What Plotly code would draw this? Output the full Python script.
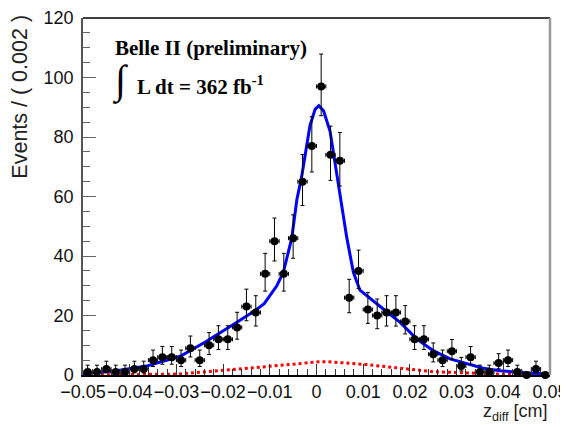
import math
import plotly.graph_objects as go

# ---- data ----
bin_width = 0.002
bin_centers = [-0.049 + 0.002 * i for i in range(50)]
counts = [1, 1, 2, 1, 1, 2, 2, 5, 6, 6,
          5, 9, 5, 10, 12, 12, 16, 23, 21, 34,
          45, 34, 46, 65, 77, 97, 74, 72, 26, 35,
          22, 20, 21, 21, 18, 12, 12, 7, 5, 8,
          3, 6, 1, 1, 4, 5, 1, 0, 2, 0]

fit_x = [-0.05, -0.0492, -0.0435, -0.0364, -0.0292, -0.0249, -0.0239, -0.0178,
         -0.0132, -0.0112, -0.0085, -0.0071, -0.0053, -0.0042, -0.0032, -0.0014,
         -0.0003, 0.0005, 0.0015, 0.0029, 0.0040, 0.0050, 0.0065, 0.0079, 0.0093,
         0.0143, 0.0179, 0.0215, 0.025, 0.0286, 0.0322, 0.0357, 0.0393, 0.0429,
         0.0464, 0.05]
fit_y = [0.3, 0.6, 1.3, 3.0, 6.3, 10.0, 11.0, 17.0,
         21.6, 24.0, 30.0, 34.5, 46.0, 59.0, 66.5, 83.8,
         89.3, 90.5, 88.8, 82.0, 71.0, 60.0, 46.0, 34.5, 28.5,
         22.2, 17.7, 12.1, 8.2, 5.4, 3.7, 2.3, 1.4, 0.9,
         0.6, 0.3]

bkg_x = [-0.05, -0.04, -0.0299, -0.0249, -0.0192, -0.0121, -0.0071, -0.005,
         0.0, 0.0022, 0.0107, 0.0179, 0.025, 0.0322, 0.0393, 0.05]
bkg_y = [0.05, 0.1, 0.3, 0.9, 1.6, 2.6, 3.4, 3.6,
         4.4, 4.5, 3.5, 2.3, 1.1, 0.7, 0.3, 0.1]

x_tick_vals = [-0.05, -0.04, -0.03, -0.02, -0.01, 0, 0.01, 0.02, 0.03, 0.04, 0.05]
x_tick_text = ["\u22120.05", "\u22120.04", "\u22120.03", "\u22120.02", "\u22120.01",
               "0", "0.01", "0.02", "0.03", "0.04", "0.05"]
y_tick_vals = [0, 20, 40, 60, 80, 100, 120]
y_tick_text = ["0", "20", "40", "60", "80", "100", "120"]


# ---- Poisson (Garwood) intervals for the counts ----
def pois_cdf(n, mu):
    if n < 0:
        return 0.0
    if mu <= 0:
        return 1.0
    s = 0.0
    for k in range(n + 1):
        s += math.exp(-mu + k * math.log(mu) - math.lgamma(k + 1))
    return s


def bisect(f, lo, hi, target):
    # f decreasing in mu
    for _ in range(100):
        mid = 0.5 * (lo + hi)
        if f(mid) > target:
            lo = mid
        else:
            hi = mid
    return 0.5 * (lo + hi)


err_up, err_dn = [], []
for n in counts:
    if n == 0:
        err_up.append(0.0)
        err_dn.append(0.0)
        continue
    lo = bisect(lambda m: pois_cdf(n - 1, m), 0.0, n, 0.84135)
    hi = bisect(lambda m: pois_cdf(n, m), n, n + 10 * math.sqrt(n) + 10, 0.15865)
    err_up.append(hi - n)
    err_dn.append(n - lo)

FONT = "Liberation Sans, Arial, Helvetica, sans-serif"
SERIF = "Liberation Serif, Times New Roman, serif"

fig = go.Figure()

fig.add_trace(go.Scatter(
    x=bkg_x, y=bkg_y, mode="lines",
    line=dict(color="#ff0000", width=3, dash="dot"),
    showlegend=False, hoverinfo="skip"))

fig.add_trace(go.Scatter(
    x=fit_x, y=fit_y, mode="lines",
    line=dict(color="#0000ff", width=3),
    showlegend=False, hoverinfo="skip"))

fig.add_trace(go.Scatter(
    x=bin_centers, y=counts, mode="markers",
    marker=dict(color="black", size=8, symbol="circle"),
    error_y=dict(type="data", symmetric=False, array=err_up, arrayminus=err_dn,
                 color="black", thickness=1, width=2),
    error_x=dict(type="constant", value=bin_width / 2, color="black",
                 thickness=1, width=2),
    cliponaxis=False, showlegend=False))

fig.update_layout(
    width=560, height=419,
    margin=dict(l=75, r=18, t=10, b=52, autoexpand=False),
    paper_bgcolor="white", plot_bgcolor="white",
    font=dict(family=FONT, size=17, color="#111"),
    xaxis=dict(
        range=[-0.05, 0.05], showgrid=False, zeroline=False, automargin=False,
        showline=True, linecolor="black", linewidth=1.5,
        ticks="inside", ticklen=11, tickwidth=1, tickcolor="#333",
        tickvals=x_tick_vals, ticktext=x_tick_text, tickangle=0,
        tickfont=dict(family=FONT, size=18, color="#111"),
        ticklabelstandoff=0, ticklabeloverflow="allow",
        minor=dict(dtick=0.002, ticks="inside", ticklen=6, tickcolor="#333", tickwidth=1),
    ),
    yaxis=dict(
        range=[0, 120], showgrid=False, zeroline=False, automargin=False,
        showline=True, linecolor="#555", linewidth=1.5,
        ticks="inside", ticklen=13, tickwidth=1, tickcolor="#666",
        tickvals=y_tick_vals, ticktext=y_tick_text,
        tickfont=dict(family=FONT, size=18, color="#111"),
        ticklabelstandoff=4, ticklabeloverflow="allow",
        minor=dict(dtick=5, ticks="inside", ticklen=7, tickcolor="#666", tickwidth=1),
    ),
)

# frame top (black) and right (grey)
fig.add_shape(type="line", xref="paper", yref="paper", x0=0, x1=1, y0=1, y1=1,
              line=dict(color="black", width=1.5))
fig.add_shape(type="line", xref="paper", yref="paper", x0=1, x1=1, y0=0, y1=1,
              line=dict(color="#999", width=2.5))

fig.add_annotation(
    text="Events / ( 0.002 )", textangle=-90, xref="paper", yref="paper",
    x=-0.135, y=1.012, xanchor="center", yanchor="top", showarrow=False,
    borderpad=0,
    font=dict(family=FONT, size=21.5, color="#222"))

fig.add_annotation(
    text="z<sub>diff</sub> [cm]", xref="paper", yref="paper",
    x=1.0, y=-0.068, xanchor="right", yanchor="top", showarrow=False,
    font=dict(family=FONT, size=18, color="#222"))

fig.add_annotation(
    text="<b>Belle II (preliminary)</b>", xref="paper", yref="paper",
    x=0.064, y=0.916, xanchor="left", yanchor="middle", showarrow=False,
    font=dict(family=SERIF, size=21, color="black"))

fig.add_annotation(
    text="<b>\u222b</b>", xref="paper", yref="paper",
    x=0.058, y=0.825, xanchor="left", yanchor="middle", showarrow=False,
    font=dict(family=SERIF, size=40, color="black"))

fig.add_annotation(
    text="<b>L dt = 362 fb<sup>-1</sup></b>", xref="paper", yref="paper",
    x=0.111, y=0.81, xanchor="left", yanchor="middle", showarrow=False,
    font=dict(family=SERIF, size=21, color="black"))

fig.write_html("out.html")
